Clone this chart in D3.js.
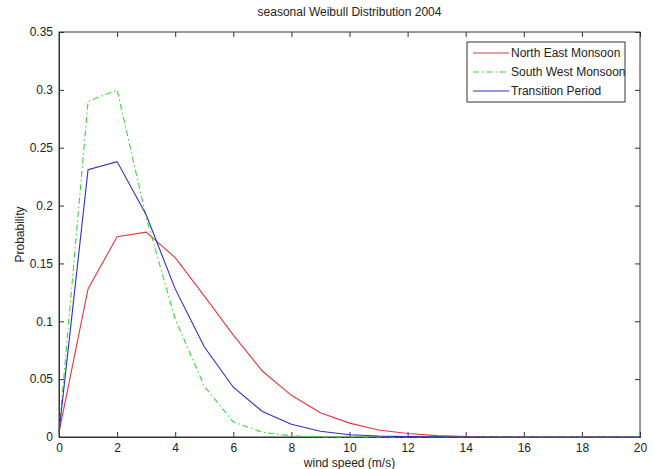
<!DOCTYPE html>
<html>
<head>
<script src="https://cdn.jsdelivr.net/npm/d3@7"></script>
<style>
  body { margin: 0; padding: 0; background: #fff; }
  svg text { font-family: "Liberation Sans Narrow", "Liberation Sans", Arial, sans-serif; fill: #222; }
</style>
</head>
<body>
<div id="viz"></div>
<script>
// wind speed bins (m/s)
var speeds = d3.range(0, 21);

// probabilities
var northEast = [0.004, 0.128, 0.173, 0.177, 0.155, 0.122, 0.088, 0.057, 0.036, 0.021, 0.012,
                 0.006, 0.003, 0.0012, 0.0004, 0.0001, 0, 0, 0, 0, 0];
var southWest = [0.004, 0.290, 0.300, 0.190, 0.102, 0.044, 0.013, 0.004, 0.001, 0.0002, 0,
                 0, 0, 0, 0, 0, 0, 0, 0, 0, 0];
var transition = [0.004, 0.231, 0.238, 0.192, 0.128, 0.078, 0.043, 0.022, 0.011, 0.005, 0.002,
                  0.0008, 0.0003, 0.0001, 0, 0, 0, 0, 0, 0, 0];

var seriesNames = ["North East Monsoon", "South West Monsoon", "Transition Period"];
var xTicks = d3.range(0, 21, 2);
var yTicks = [0, 0.05, 0.1, 0.15, 0.2, 0.25, 0.3, 0.35];

var W = 653, H = 469;
var m = {left: 59, right: 13, top: 32, bottom: 32};

var svg = d3.select("#viz").append("svg")
  .attr("width", W).attr("height", H);

var x = d3.scaleLinear().domain([0, 20]).range([m.left, W - m.right]);
var y = d3.scaleLinear().domain([0, 0.35]).range([H - m.bottom, m.top]);

var series = [
  {name: seriesNames[0], values: northEast, color: "#e0383c", dash: null},
  {name: seriesNames[1], values: southWest, color: "#38d838", dash: "6,3,1.5,3"},
  {name: seriesNames[2], values: transition, color: "#3030c0", dash: null}
];

// plot box
svg.append("rect")
  .attr("x", x(0)).attr("y", y(0.35))
  .attr("width", x(20) - x(0)).attr("height", y(0) - y(0.35))
  .attr("fill", "#fff").attr("stroke", "#333").attr("stroke-width", 1);

// axes with inward ticks on all four sides (matlab style)
function tickFmt(d) { return d === 0 ? "0" : d3.format("")(+d.toFixed(2)); }

var fs = "12px";
svg.append("g").attr("transform", "translate(0," + y(0) + ")")
  .call(d3.axisBottom(x).tickValues(xTicks).tickSize(-5).tickPadding(6).tickFormat(tickFmt))
  .call(function(g) { g.select(".domain").attr("stroke", "#333"); g.selectAll("text").style("font-size", fs); });
svg.append("g").attr("transform", "translate(0," + y(0.35) + ")")
  .call(d3.axisTop(x).tickValues(xTicks).tickSize(-5).tickFormat(""))
  .call(function(g) { g.select(".domain").remove(); });
svg.append("g").attr("transform", "translate(" + x(0) + ",0)")
  .call(d3.axisLeft(y).tickValues(yTicks).tickSize(-5).tickPadding(6).tickFormat(tickFmt))
  .call(function(g) { g.select(".domain").attr("stroke", "#333"); g.selectAll("text").style("font-size", fs); });
svg.append("g").attr("transform", "translate(" + x(20) + ",0)")
  .call(d3.axisRight(y).tickValues(yTicks).tickSize(-5).tickFormat(""))
  .call(function(g) { g.select(".domain").remove(); });
svg.selectAll(".tick line").attr("stroke", "#333");

// curves
var line = d3.line()
  .x(function(d, i) { return x(speeds[i]); })
  .y(function(d) { return y(d); });

svg.selectAll("path.curve").data(series).enter().append("path")
  .attr("class", "curve")
  .attr("d", function(d) { return line(d.values); })
  .attr("fill", "none")
  .attr("stroke", f("color"))
  .attr("stroke-width", 1.1)
  .attr("stroke-dasharray", f("dash"));

function f(name) { return function(o) { return o[name]; }; }

// titles
svg.append("text").attr("x", (x(0) + x(20)) / 2).attr("y", 16)
  .attr("text-anchor", "middle").style("font-size", fs)
  .text("seasonal Weibull Distribution 2004");
svg.append("text").attr("x", (x(0) + x(20)) / 2).attr("y", 467)
  .attr("text-anchor", "middle").style("font-size", fs)
  .text("wind speed (m/s)");
svg.append("text")
  .attr("transform", "translate(24," + (y(0) + y(0.35)) / 2 + ") rotate(-90)")
  .attr("text-anchor", "middle").style("font-size", fs)
  .text("Probability");

// legend
var lg = svg.append("g").attr("transform", "translate(467,42)");
lg.append("rect").attr("width", 158).attr("height", 60)
  .attr("fill", "#fff").attr("stroke", "#333");
var row = lg.selectAll("g.row").data(series).enter().append("g")
  .attr("class", "row")
  .attr("transform", function(d, i) { return "translate(0," + (11 + i * 19) + ")"; });
row.append("line").attr("x1", 6).attr("x2", 42)
  .attr("stroke", f("color")).attr("stroke-width", 1.1)
  .attr("stroke-dasharray", f("dash"));
row.append("text").attr("x", 44).attr("dy", "0.35em")
  .style("font-size", fs).text(f("name"));
</script>
</body>
</html>
